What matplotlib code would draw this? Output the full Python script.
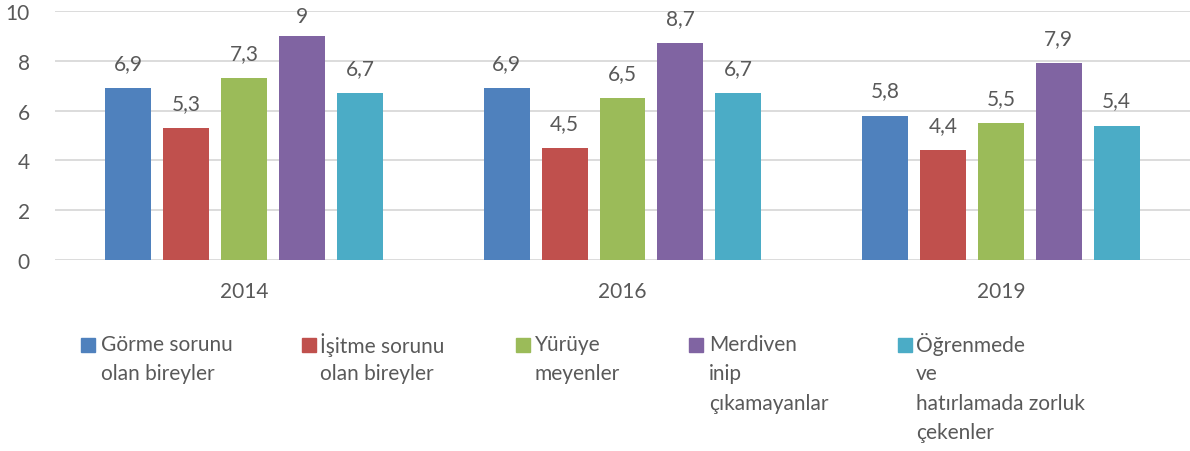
import matplotlib.pyplot as plt
import numpy as np
from matplotlib.patches import Rectangle

plt.rcParams['font.family'] = ['Lato', 'DejaVu Sans']

years = ["2014", "2016", "2019"]
series = [
    "Görme sorunu\nolan bireyler",
    "İşitme sorunu\nolan bireyler",
    "Yürüye\nmeyenler",
    "Merdiven\ninip\nçıkamayanlar",
    "Öğrenmede\nve\nhatırlamada zorluk\nçekenler",
]
gorme = [6.9, 6.9, 5.8]
isitme = [5.3, 4.5, 4.4]
yuruye = [7.3, 6.5, 5.5]
merdiven = [9.0, 8.7, 7.9]
ogrenme = [6.7, 6.7, 5.4]
values = [gorme, isitme, yuruye, merdiven, ogrenme]
colors = ["#4F81BD", "#C0504D", "#9BBB59", "#8064A2", "#4BACC6"]

txt = "#595959"
fs = 15
W, H = 1190, 452
fig = plt.figure(figsize=(W / 100, H / 100), dpi=100)
ax = fig.add_axes([55 / W, 1 - 261 / H, (1190 - 55) / W, (261 - 12) / H])

x = np.arange(len(years))
pitch = 0.153
width = 0.1215
for i, (vals, c) in enumerate(zip(values, colors)):
    pos = x + (i - 2) * pitch
    ax.bar(pos, vals, width=width, color=c, zorder=2)
    for px, v in zip(pos, vals):
        lab = ("%g" % v).replace(".", ",")
        off = 7 if v >= 9 else 11
        ax.annotate(lab, (px, v), xytext=(0, off), textcoords="offset points",
                    ha="center", va="bottom", fontsize=fs, color=txt,
                    annotation_clip=False)

ax.set_xlim(-0.5, 2.5)
ax.set_ylim(0, 10)
ax.set_yticks(range(0, 11, 2))
ax.set_xticks(x)
ax.set_xticklabels(years)
ax.grid(axis="y", color="#D9D9D9", linewidth=1.3, zorder=0)
for s in ax.spines.values():
    s.set_visible(False)
ax.tick_params(length=0, labelsize=fs, colors=txt)
ax.tick_params(axis="y", pad=18)
ax.tick_params(axis="x", pad=15)

# legend, drawn by hand
sq_x = [81, 302, 516, 689, 898]
tx_x = [101, 320, 535, 709, 916]
for name, c, sx, tx in zip(series, colors, sq_x, tx_x):
    fig.patches.append(Rectangle((sx / W, 1 - 353 / H), 14 / W, 14 / H,
                                 transform=fig.transFigure, color=c))
    for j, line in enumerate(name.split("\n")):
        fig.text(tx / W, 1 - (345 + 29.3 * j) / H, line, fontsize=fs,
                 color=txt, ha="left", va="center")

plt.savefig("out.png", dpi=100)
